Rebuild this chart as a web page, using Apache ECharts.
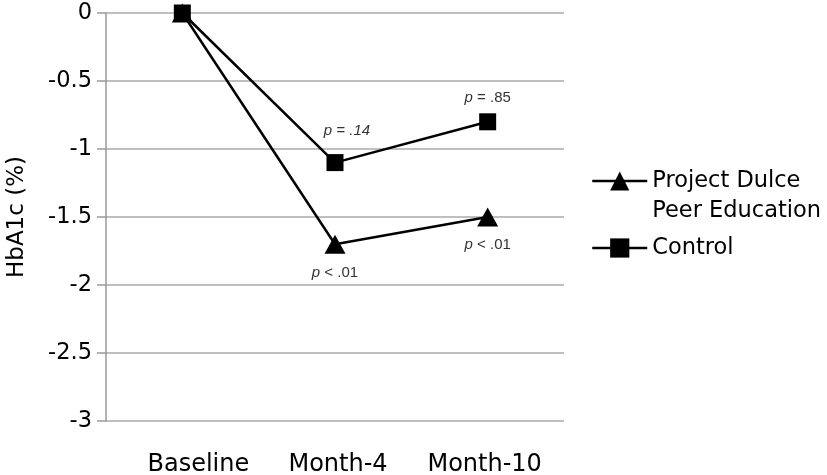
<!DOCTYPE html>
<html>
<head>
<meta charset="utf-8">
<script src="https://cdn.jsdelivr.net/npm/echarts@6/dist/echarts.min.js"></script>
<style>html,body{margin:0;padding:0;background:#fff;}#c{width:827px;height:475px;}</style>
</head>
<body>
<div id="c"></div>
<script>
var categories = ['Baseline', 'Month-4', 'Month-10'];
var dulceValues = [0, -1.7, -1.5];
var controlValues = [0, -1.1, -0.8];
var dulceLabels = ['', 'p < .01', 'p < .01'];
var controlLabels = ['', 'p = .14', 'p = .85'];
var seriesNames = ['Project Dulce\nPeer Education', 'Control'];
var yTicks = [0, -0.5, -1, -1.5, -2, -2.5, -3];

var FONT = 'DejaVu Sans';
function pRich(s, italicRest) {
  if (!s) return '';
  var rest = s.slice(1);
  return '{p|p}{' + (italicRest ? 'p' : 'r') + '|' + rest + '}';
}
var labelRich = {
  p: {fontFamily: 'Liberation Sans', fontStyle: 'italic', fontSize: 15, color: '#333'},
  r: {fontFamily: 'Liberation Sans', fontSize: 15, color: '#333'}
};
var controlDist = [0, 16, 8];
var controlOff = [0, 12, 0];
var dulceDist = [0, 12, 11];
var catPad = [[0, 0, 0, 32], [0, 0, 0, 6], [0, 6, 0, 0]];

var chart = echarts.init(document.getElementById('c'));
chart.setOption({
  animation: false,
  backgroundColor: '#fff',
  grid: {left: 106, right: 263, top: 13, bottom: 54, containLabel: false, outerBoundsMode: 'none'},
  legend: {
    orient: 'vertical',
    left: 586,
    top: 131,
    itemWidth: 55,
    itemHeight: 24,
    itemGap: 7,
    lineStyle: {width: 2.5},
    textStyle: {fontFamily: FONT, fontSize: 22.5, color: '#000', lineHeight: 30},
    formatter: function (name) {
      return name.indexOf('\n') >= 0 ? ' \n' + name : name;
    },
    data: seriesNames
  },
  xAxis: {
    type: 'category',
    data: categories.map(function (c, i) {
      return {value: c, textStyle: {padding: catPad[i]}};
    }),
    boundaryGap: true,
    axisLine: {show: false},
    axisTick: {show: false},
    axisLabel: {fontFamily: FONT, fontSize: 24, color: '#000', margin: 32}
  },
  yAxis: {
    type: 'value',
    min: -3,
    max: 0,
    interval: 0.5,
    name: 'HbA1c (%)',
    nameLocation: 'middle',
    nameGap: 77,
    nameTextStyle: {fontFamily: FONT, fontSize: 23, color: '#000'},
    axisLine: {show: true, onZero: false, lineStyle: {color: '#999', width: 1.5}},
    axisTick: {show: true, length: 9, inside: false, lineStyle: {color: '#999', width: 1.5}},
    splitLine: {show: true, lineStyle: {color: '#aaa', width: 1.5}},
    axisLabel: {
      fontFamily: FONT, fontSize: 22.5, color: '#000', margin: 14,
      formatter: function (v) { return String(v); }
    }
  },
  series: [
    {
      name: seriesNames[0],
      type: 'line',
      data: dulceValues.map(function (v, i) {
        return {value: v, label: {show: !!dulceLabels[i], formatter: pRich(dulceLabels[i], false), position: 'bottom', distance: dulceDist[i], rich: labelRich}};
      }),
      symbol: 'triangle',
      symbolSize: [21, 19],
      lineStyle: {color: '#000', width: 2.5},
      itemStyle: {color: '#000'},
      z: 3
    },
    {
      name: seriesNames[1],
      type: 'line',
      data: controlValues.map(function (v, i) {
        return {value: v, label: {show: !!controlLabels[i], formatter: pRich(controlLabels[i], i === 1), position: 'top', distance: controlDist[i], offset: [controlOff[i], 0], rich: labelRich}};
      }),
      symbol: 'rect',
      symbolSize: 17,
      lineStyle: {color: '#000', width: 2.5},
      itemStyle: {color: '#000'},
      z: 4
    }
  ]
});
</script>
</body>
</html>
